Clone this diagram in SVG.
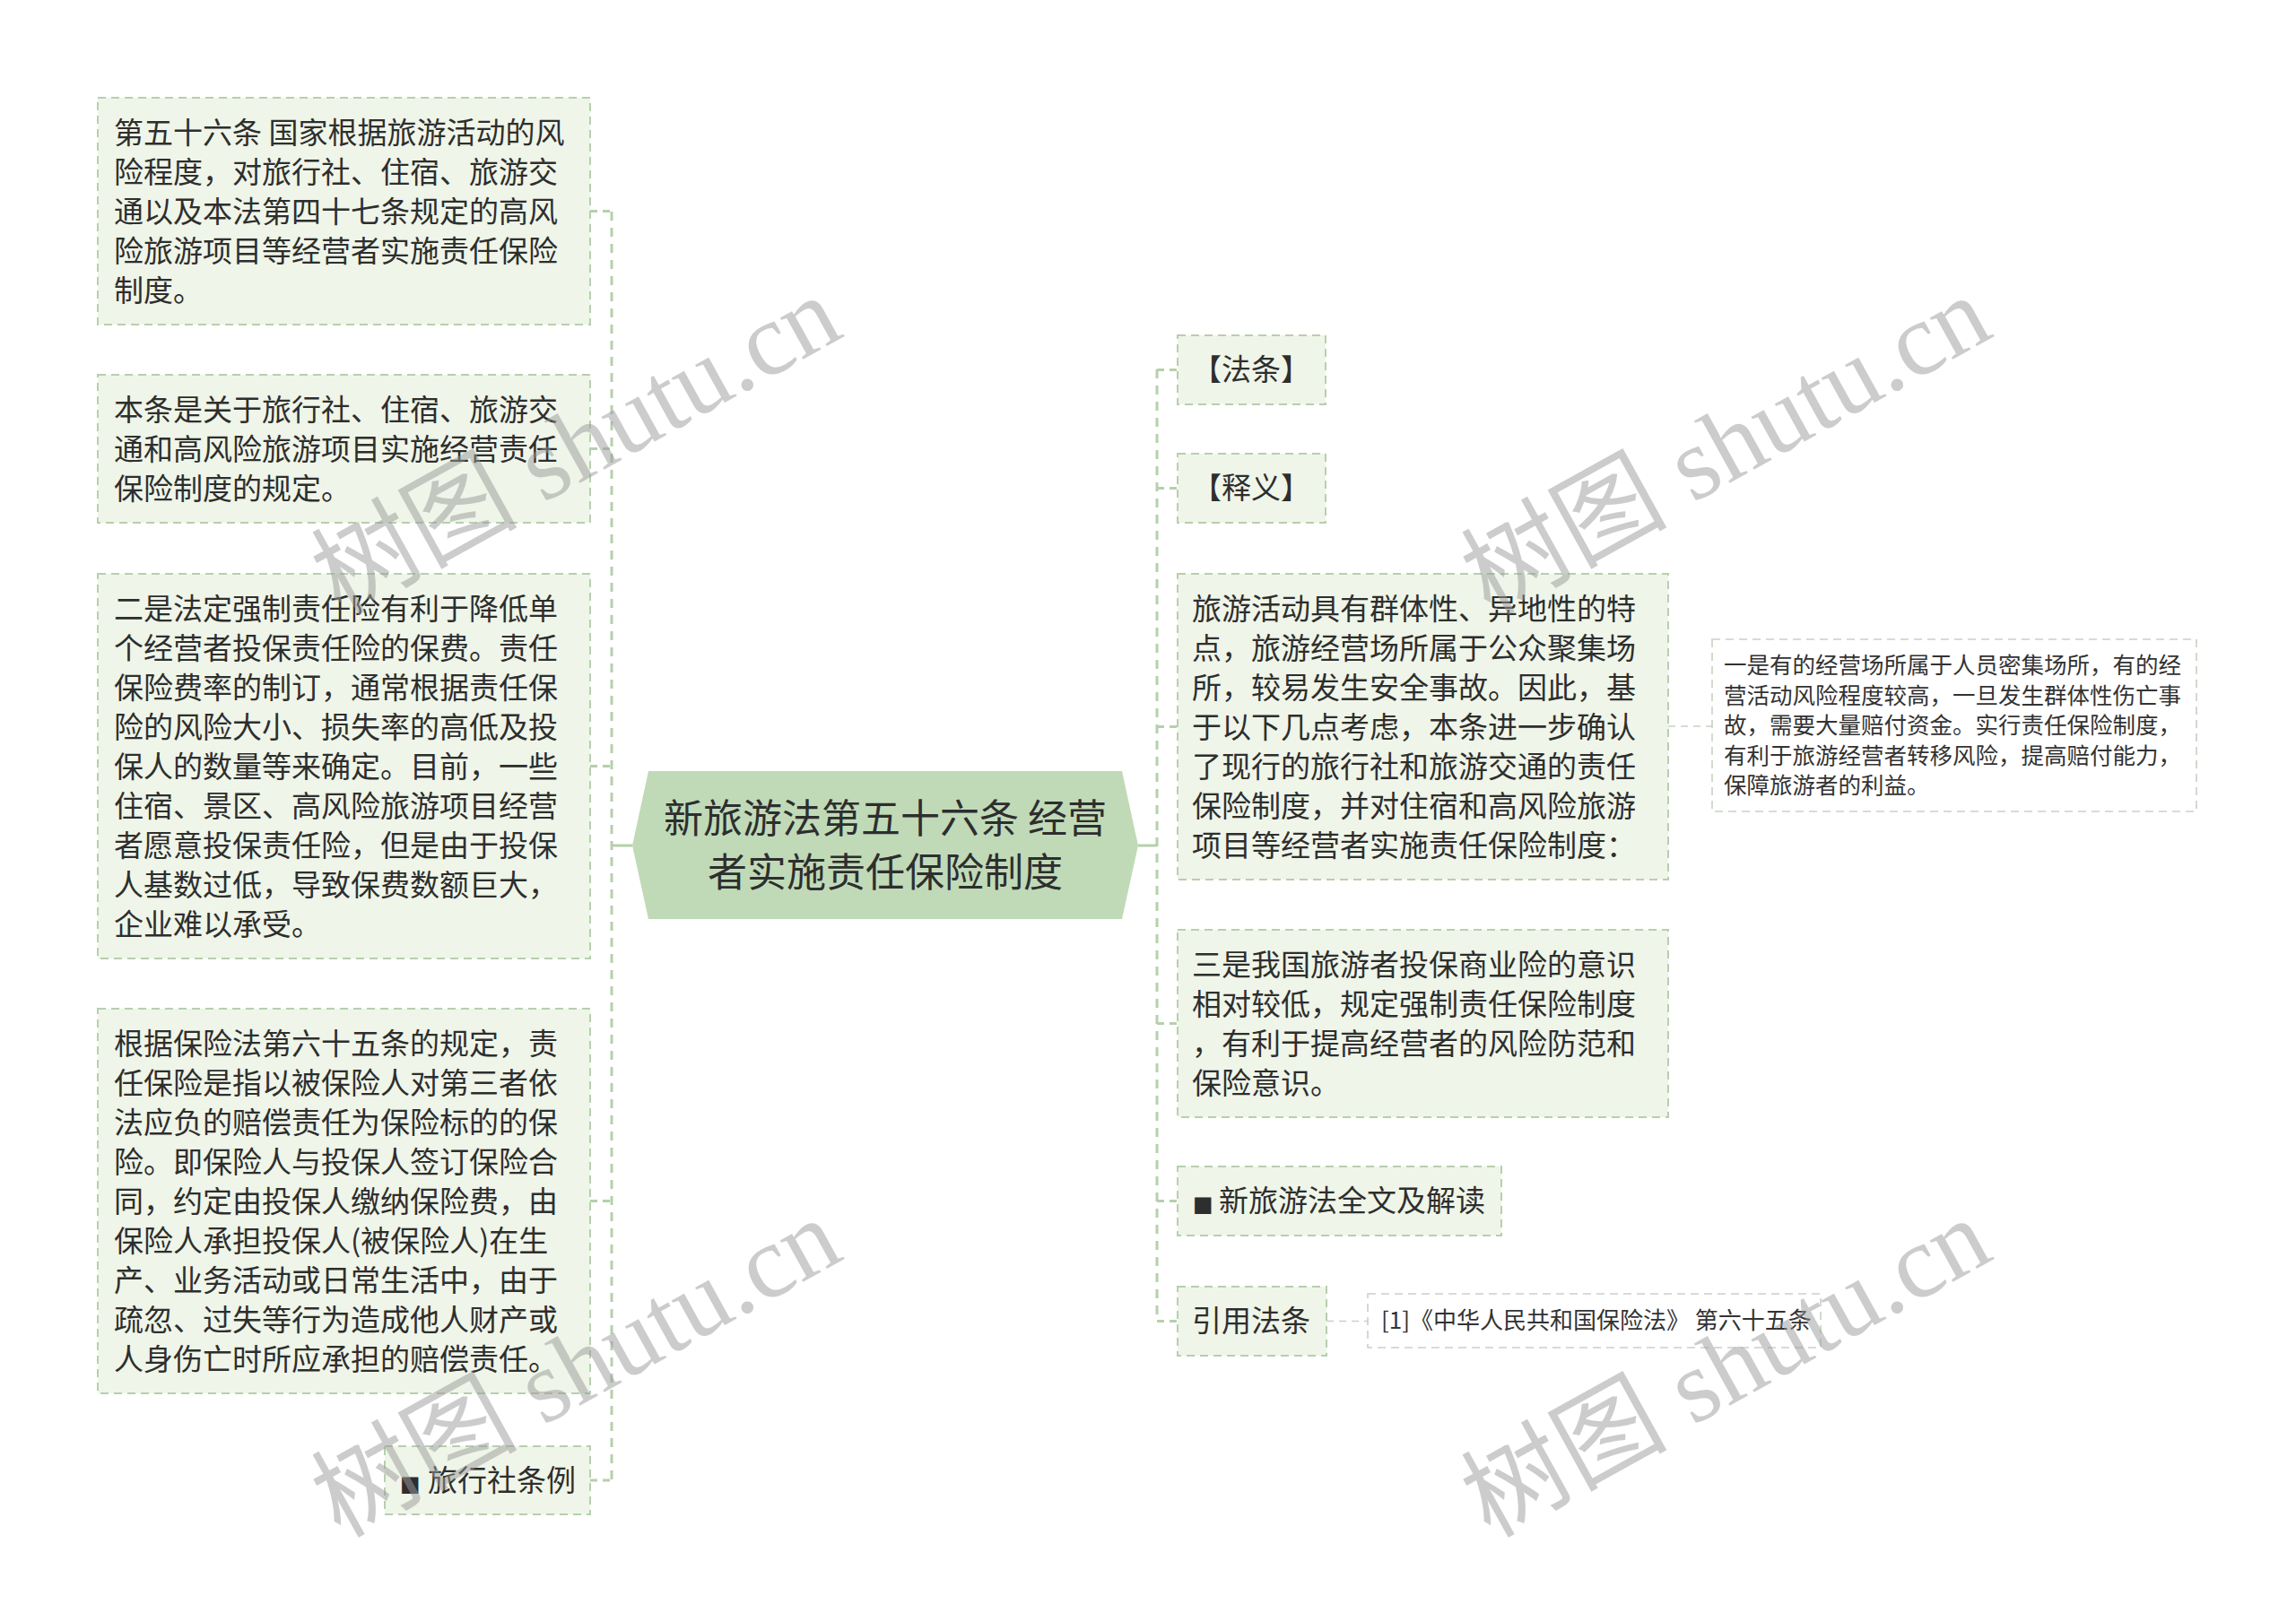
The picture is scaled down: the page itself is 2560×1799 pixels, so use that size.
<svg xmlns="http://www.w3.org/2000/svg" width="2560" height="1799" viewBox="0 0 2560 1799">
<style>
.box{fill:#eff5e8;stroke:#b7cfae;stroke-width:2;stroke-dasharray:9 6}
.wbox{fill:#ffffff;stroke:#c6d3c2;stroke-width:1.6;stroke-dasharray:9 6}
.t{font-family:"Noto Sans CJK SC","Noto Sans CJK JP",sans-serif;font-size:33px;fill:#2e2e2e}
.ts{font-family:"Noto Sans CJK SC",sans-serif;font-size:25.5px;fill:#333}
.tc{font-family:"Noto Sans CJK SC",sans-serif;font-size:26px;fill:#333}
.tm{font-family:"Noto Sans CJK SC",sans-serif;font-size:44px;fill:#2e2e2e;text-anchor:middle}
.bul{font-family:"DejaVu Sans",sans-serif;font-size:24px;fill:#2e2e2e}
.spine{stroke:#b5d0ac;stroke-width:3;stroke-dasharray:10 8;fill:none}
.stub{stroke:#b5d0ac;stroke-width:3;stroke-dasharray:8 6;fill:none}
.solid{stroke:#b5d0ac;stroke-width:3;fill:none}
.wm{font-family:"Liberation Serif","Noto Sans CJK SC",serif;font-size:115px;fill:#9a9a9a;opacity:0.5}
</style>
<rect width="2560" height="1799" fill="#ffffff"/>

<g id="connectors">
  <line class="solid" x1="682" y1="943" x2="705" y2="943"/>
  <line class="solid" x1="1269" y1="943" x2="1290" y2="943"/>
  <line class="spine" x1="682" y1="236" x2="682" y2="1651"/>
  <line class="spine" x1="1290" y1="412" x2="1290" y2="1474"/>
  <line class="stub" x1="658" y1="235.5" x2="682" y2="235.5"/>
  <line class="stub" x1="658" y1="500.5" x2="682" y2="500.5"/>
  <line class="stub" x1="658" y1="854.5" x2="682" y2="854.5"/>
  <line class="stub" x1="658" y1="1339.5" x2="682" y2="1339.5"/>
  <line class="stub" x1="658" y1="1651" x2="682" y2="1651"/>
  <line class="stub" x1="1290" y1="412.5" x2="1313" y2="412.5"/>
  <line class="stub" x1="1290" y1="544.5" x2="1313" y2="544.5"/>
  <line class="stub" x1="1290" y1="810.5" x2="1313" y2="810.5"/>
  <line class="stub" x1="1290" y1="1141.5" x2="1313" y2="1141.5"/>
  <line class="stub" x1="1290" y1="1339.5" x2="1313" y2="1339.5"/>
  <line class="stub" x1="1290" y1="1473.5" x2="1313" y2="1473.5"/>
  <line class="stub" x1="1860" y1="810" x2="1909" y2="810" style="stroke:#c6d3c2;stroke-width:1.6"/>
  <line class="stub" x1="1479" y1="1473.5" x2="1525" y2="1473.5" style="stroke:#c6d3c2;stroke-width:1.6"/>
</g>

<g id="center">
  <polygon points="723,860 1251,860 1269,943 1251,1025 723,1025 705,943" fill="#c0dab8"/>
  <text class="tm" x="987" y="929">新旅游法第五十六条 经营</text>
  <text class="tm" x="987" y="989">者实施责任保险制度</text>
</g>

<g id="left1">
  <rect class="box" x="109" y="109" width="549" height="253"/>
  <text class="t" x="127" y="160">
    <tspan x="127">第五十六条 国家根据旅游活动的风</tspan>
    <tspan x="127" dy="44">险程度，对旅行社、住宿、旅游交</tspan>
    <tspan x="127" dy="44">通以及本法第四十七条规定的高风</tspan>
    <tspan x="127" dy="44">险旅游项目等经营者实施责任保险</tspan>
    <tspan x="127" dy="44">制度。</tspan>
  </text>
</g>

<g id="left2">
  <rect class="box" x="109" y="418" width="549" height="165"/>
  <text class="t" x="127" y="469">
    <tspan x="127">本条是关于旅行社、住宿、旅游交</tspan>
    <tspan x="127" dy="44">通和高风险旅游项目实施经营责任</tspan>
    <tspan x="127" dy="44">保险制度的规定。</tspan>
  </text>
</g>

<g id="left3">
  <rect class="box" x="109" y="640" width="549" height="429"/>
  <text class="t" x="127" y="691">
    <tspan x="127">二是法定强制责任险有利于降低单</tspan>
    <tspan x="127" dy="44">个经营者投保责任险的保费。责任</tspan>
    <tspan x="127" dy="44">保险费率的制订，通常根据责任保</tspan>
    <tspan x="127" dy="44">险的风险大小、损失率的高低及投</tspan>
    <tspan x="127" dy="44">保人的数量等来确定。目前，一些</tspan>
    <tspan x="127" dy="44">住宿、景区、高风险旅游项目经营</tspan>
    <tspan x="127" dy="44">者愿意投保责任险，但是由于投保</tspan>
    <tspan x="127" dy="44">人基数过低，导致保费数额巨大，</tspan>
    <tspan x="127" dy="44">企业难以承受。</tspan>
  </text>
</g>

<g id="left4">
  <rect class="box" x="109" y="1125" width="549" height="429"/>
  <text class="t" x="127" y="1176">
    <tspan x="127">根据保险法第六十五条的规定，责</tspan>
    <tspan x="127" dy="44">任保险是指以被保险人对第三者依</tspan>
    <tspan x="127" dy="44">法应负的赔偿责任为保险标的的保</tspan>
    <tspan x="127" dy="44">险。即保险人与投保人签订保险合</tspan>
    <tspan x="127" dy="44">同，约定由投保人缴纳保险费，由</tspan>
    <tspan x="127" dy="44">保险人承担投保人(被保险人)在生</tspan>
    <tspan x="127" dy="44">产、业务活动或日常生活中，由于</tspan>
    <tspan x="127" dy="44">疏忽、过失等行为造成他人财产或</tspan>
    <tspan x="127" dy="44">人身伤亡时所应承担的赔偿责任。</tspan>
  </text>
</g>

<g id="left5">
  <rect class="box" x="429" y="1613" width="229" height="76"/>
  <text class="t" y="1663"><tspan class="bul" x="446">■</tspan><tspan x="477">旅行社条例</tspan></text>
</g>

<g id="right1">
  <rect class="box" x="1313" y="374" width="165" height="77"/>
  <text class="t" x="1329" y="424">【法条】</text>
</g>

<g id="right2">
  <rect class="box" x="1313" y="506" width="165" height="77"/>
  <text class="t" x="1329" y="556">【释义】</text>
</g>

<g id="right3">
  <rect class="box" x="1313" y="640" width="547" height="341"/>
  <text class="t" x="1329" y="691">
    <tspan x="1329">旅游活动具有群体性、异地性的特</tspan>
    <tspan x="1329" dy="44">点，旅游经营场所属于公众聚集场</tspan>
    <tspan x="1329" dy="44">所，较易发生安全事故。因此，基</tspan>
    <tspan x="1329" dy="44">于以下几点考虑，本条进一步确认</tspan>
    <tspan x="1329" dy="44">了现行的旅行社和旅游交通的责任</tspan>
    <tspan x="1329" dy="44">保险制度，并对住宿和高风险旅游</tspan>
    <tspan x="1329" dy="44">项目等经营者实施责任保险制度：</tspan>
  </text>
</g>

<g id="right3a">
  <rect class="wbox" x="1909" y="713" width="540" height="192"/>
  <text class="ts" x="1922" y="751">
    <tspan x="1922">一是有的经营场所属于人员密集场所，有的经</tspan>
    <tspan x="1922" dy="33.5">营活动风险程度较高，一旦发生群体性伤亡事</tspan>
    <tspan x="1922" dy="33.5">故，需要大量赔付资金。实行责任保险制度，</tspan>
    <tspan x="1922" dy="33.5">有利于旅游经营者转移风险，提高赔付能力，</tspan>
    <tspan x="1922" dy="33.5">保障旅游者的利益。</tspan>
  </text>
</g>

<g id="right4">
  <rect class="box" x="1313" y="1037" width="547" height="209"/>
  <text class="t" x="1329" y="1088">
    <tspan x="1329">三是我国旅游者投保商业险的意识</tspan>
    <tspan x="1329" dy="44">相对较低，规定强制责任保险制度</tspan>
    <tspan x="1329" dy="44">，有利于提高经营者的风险防范和</tspan>
    <tspan x="1329" dy="44">保险意识。</tspan>
  </text>
</g>

<g id="right5">
  <rect class="box" x="1313" y="1301" width="361" height="77"/>
  <text class="t" y="1351"><tspan class="bul" x="1330">■</tspan><tspan x="1359">新旅游法全文及解读</tspan></text>
</g>

<g id="right6">
  <rect class="box" x="1313" y="1435" width="166" height="77"/>
  <text class="t" x="1329" y="1485">引用法条</text>
</g>

<g id="right6a">
  <rect class="wbox" x="1525" y="1443" width="505" height="60"/>
  <text class="tc" x="1540" y="1482">[1]《中华人民共和国保险法》 第六十五条</text>
</g>

<g id="watermarks">
  <text class="wm" transform="translate(379,687) rotate(-29)">树图 shutu.cn</text>
  <text class="wm" transform="translate(1661,687) rotate(-29)">树图 shutu.cn</text>
  <text class="wm" transform="translate(379,1716) rotate(-29)">树图 shutu.cn</text>
  <text class="wm" transform="translate(1661,1716) rotate(-29)">树图 shutu.cn</text>
</g>
</svg>
